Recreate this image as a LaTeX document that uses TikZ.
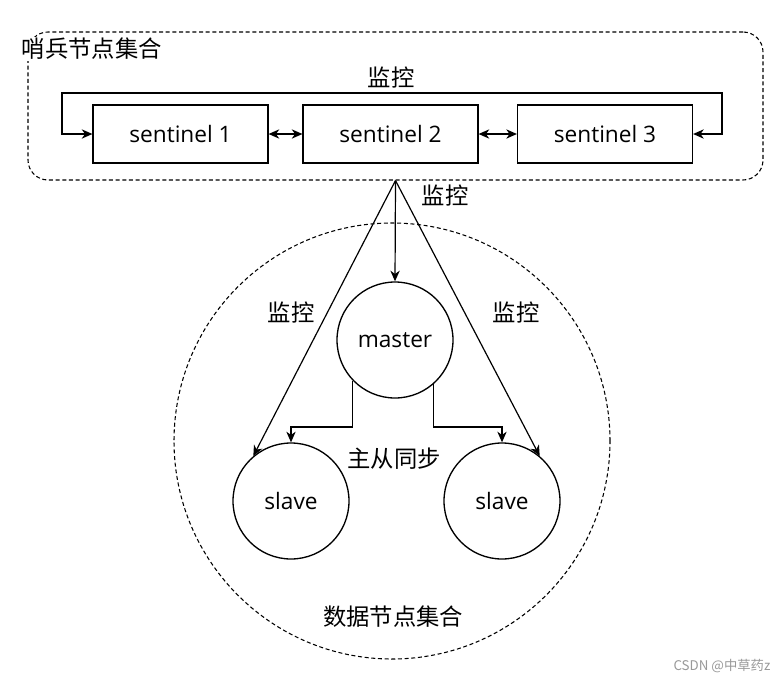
\documentclass[tikz,border=0pt]{standalone}
\usepackage{fontspec}
\setmainfont{Open Sans}
\newfontfamily\cjk{Noto Sans CJK SC}
\usetikzlibrary{arrows.meta}
\begin{document}
\begin{tikzpicture}[x=0.75pt,y=-0.75pt,
  line width=0.9pt,
  arr/.style={-{Stealth[length=8pt,width=7pt,inset=2.5pt]}},
  darr/.style={{Stealth[length=8pt,width=7pt,inset=2.5pt]}-{Stealth[length=8pt,width=7pt,inset=2.5pt]}},
  sbox/.style={draw, minimum width=131.25pt, minimum height=43.5pt, inner sep=0pt, font=\fontsize{17}{20}\selectfont},
  dnode/.style={draw, circle, minimum size=87pt, inner sep=0pt, line width=1pt, font=\fontsize{17}{20}\selectfont},
  grp/.style={draw, dashed, dash pattern=on 3pt off 2pt, line width=0.8pt, inner sep=0pt},
  lbl/.style={font=\cjk\fontsize{17.5}{20}\selectfont, inner sep=1pt}
]
\useasboundingbox (0,0) rectangle (777,682);
\fill[white] (0,0) rectangle (777,682);

% sentinel group
\node[grp, rounded corners=15pt, minimum width=551.25pt, minimum height=111pt] (sentgroup) at (395.5,106) {};
\node[lbl, fill=white, anchor=west] (sentlabel) at (20,49) {哨兵节点集合};

% sentinel boxes
\node[sbox] (s1) at (180.5,134) {sentinel 1};
\node[sbox] (s2) at (390.5,134) {sentinel 2};
\node[sbox] (s3) at (605,134) {sentinel 3};

\draw[darr] (s1) -- (s2);
\draw[darr] (s2) -- (s3);

\coordinate (lt) at (62,93);
\coordinate (rt) at (722,93);
\draw[darr] (s1.west) -| (lt) -- (rt) |- (s3.east);
\node[lbl] (toplabel) at (391,78) {监控};

% data group
\node[grp, circle, minimum size=327pt] (datagroup) at (392,441) {};

\node[dnode] (master) at (395,340) {master};
\node[dnode] (slaveL) at (291,501) {slave};
\node[dnode] (slaveR) at (502,501) {slave};

\coordinate (apex) at (sentgroup.south);
\draw[arr] (apex) -- (master.north);
\draw[arr] (apex) -- (slaveL.130);
\draw[arr] (apex) -- (slaveR.50);

\node[lbl] (labelA) at (445,196) {监控};
\node[lbl] (labelL) at (291,313) {监控};
\node[lbl] (labelR) at (516,313) {监控};

\coordinate (jl) at (291,427);
\coordinate (jr) at (502,427);
\draw[arr] (master.224) |- (jl) -| (slaveL.north);
\draw[arr] (master.311) |- (jr) -| (slaveR.north);

\node[lbl] (synclabel) at (394,459) {主从同步};
\node[lbl] (datalabel) at (393,617) {数据节点集合};

\node[font=\cjk\fontsize{10}{12}\selectfont, text=black!40, anchor=east, inner sep=0pt] (wm) at (771,666) {CSDN @中草药z};
\end{tikzpicture}
\end{document}
